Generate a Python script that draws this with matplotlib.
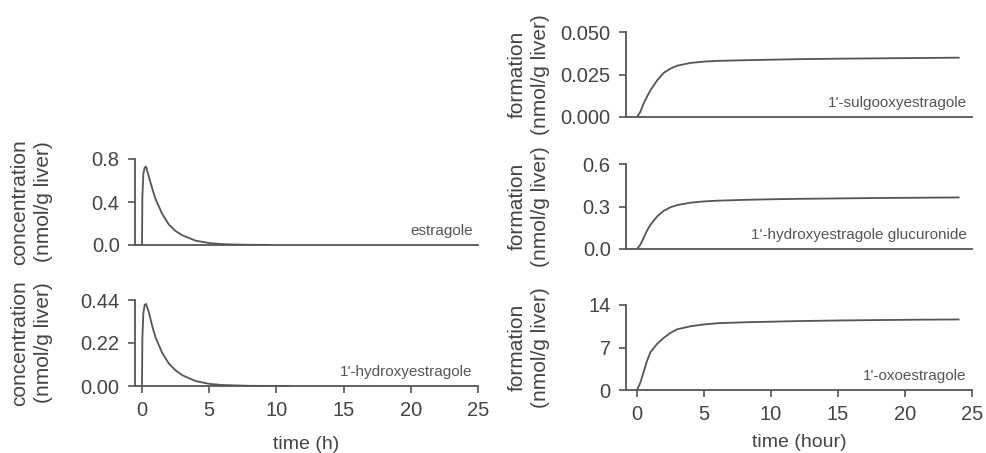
import matplotlib
matplotlib.use("Agg")
import matplotlib.pyplot as plt

plt.rcParams['font.family'] = ['Liberation Sans', 'DejaVu Sans']

# liver concentrations (left column)
t_estragole = [0, 0.03, 0.1, 0.2, 0.3, 0.5, 0.75, 1, 1.5, 2, 2.5, 3, 4, 5, 6, 7, 8, 9.5]
c_estragole = [0, 0.45, 0.66, 0.72, 0.73, 0.64, 0.53, 0.43, 0.29, 0.19, 0.13, 0.09,
               0.04, 0.018, 0.008, 0.004, 0.002, 0.001]

t_hydroxy = [0, 0.03, 0.1, 0.2, 0.3, 0.5, 0.75, 1, 1.5, 2, 2.5, 3, 4, 5, 6, 8, 11]
c_hydroxy = [0, 0.25, 0.37, 0.415, 0.42, 0.38, 0.31, 0.25, 0.17, 0.115, 0.08, 0.055,
             0.025, 0.011, 0.005, 0.001, 0.0]

# cumulative formation (right column)
t_form = [0, 0.25, 0.5, 0.75, 1, 1.5, 2, 2.5, 3, 4, 5, 6, 8, 10, 12, 15, 18, 21, 24]
f_sulfo = [0, 0.003, 0.008, 0.012, 0.0157, 0.0215, 0.026, 0.0285, 0.0302, 0.0318,
           0.0326, 0.0330, 0.0334, 0.0337, 0.0340, 0.0343, 0.0345, 0.0347, 0.0349]
f_gluc = [0, 0.03, 0.08, 0.13, 0.17, 0.23, 0.27, 0.295, 0.31, 0.327, 0.336, 0.341,
          0.347, 0.351, 0.354, 0.357, 0.360, 0.362, 0.364]
f_oxo = [0, 1.2, 3.0, 4.8, 6.2, 7.6, 8.6, 9.4, 10.0, 10.5, 10.8, 11.0, 11.15, 11.25,
         11.35, 11.45, 11.52, 11.58, 11.62]

left_ticks = [[0.0, 0.4, 0.8], [0.00, 0.22, 0.44]]
left_ticklabels = [['0.0', '0.4', '0.8'], ['0.00', '0.22', '0.44']]
right_ticks = [[0.0, 0.025, 0.05], [0.0, 0.3, 0.6], [0, 7, 14]]
right_ticklabels = [['0.000', '0.025', '0.050'], ['0.0', '0.3', '0.6'], ['0', '7', '14']]
x_ticks = [0, 5, 10, 15, 20, 25]

grey = '#555555'
txt = '#444444'
W, H = 986, 453
fig = plt.figure(figsize=(W / 100, H / 100), dpi=100)


def make_ax(x0, x1, ytop, ybot):
    return fig.add_axes([x0 / W, 1 - ybot / H, (x1 - x0) / W, (ybot - ytop) / H])


def style(ax, xmin, ylim, ticks, labels, name, ylabel, lx, xlabel=None, lpad=4):
    ax.set_xlim(xmin, 25)
    ax.set_ylim(*ylim)
    for s in ['top', 'right']:
        ax.spines[s].set_visible(False)
    for s in ['left', 'bottom']:
        ax.spines[s].set_color(grey)
        ax.spines[s].set_linewidth(1.3)
    ax.set_yticks(ticks)
    ax.set_yticklabels(labels)
    ax.tick_params(colors=grey, labelcolor=txt, labelsize=14.5, length=5,
                   width=1.2, pad=6)
    if xlabel:
        ax.set_xticks(x_ticks)
        ax.set_xlabel(xlabel, fontsize=14, color=txt, labelpad=lpad)
    else:
        ax.set_xticks([])
    ax.set_ylabel(ylabel, fontsize=15, color=txt, linespacing=1.3)
    ax.yaxis.set_label_coords(lx, 0.5)
    ax.text(0.985, 0.16, name, transform=ax.transAxes, ha='right', va='center',
            fontsize=11, color=grey)


ax1 = make_ax(135, 478, 159, 245)
ax1.plot(t_estragole, c_estragole, color=grey, lw=1.3)
style(ax1, -0.52, (0, 0.8), left_ticks[0], left_ticklabels[0], 'estragole',
      'concentration\n(nmol/g liver)', -0.24)

ax2 = make_ax(135, 478, 300, 386)
ax2.plot(t_hydroxy, c_hydroxy, color=grey, lw=1.3)
style(ax2, -0.52, (0, 0.44), left_ticks[1], left_ticklabels[1], "1'-hydroxyestragole",
      'concentration\n(nmol/g liver)', -0.24, 'time (h)', 11)

ax3 = make_ax(626, 972, 32, 117)
ax3.plot(t_form, f_sulfo, color=grey, lw=1.3)
style(ax3, -0.82, (0, 0.05), right_ticks[0], right_ticklabels[0], "1'-sulgooxyestragole",
      'formation\n(nmol/g liver)', -0.22)

ax4 = make_ax(626, 972, 164, 249)
ax4.plot(t_form, f_gluc, color=grey, lw=1.3)
style(ax4, -0.82, (0, 0.6), right_ticks[1], right_ticklabels[1],
      "1'-hydroxyestragole glucuronide", 'formation\n(nmol/g liver)', -0.22)

ax5 = make_ax(626, 972, 305, 390)
ax5.plot(t_form, f_oxo, color=grey, lw=1.3)
style(ax5, -0.82, (0, 14), right_ticks[2], right_ticklabels[2], "1'-oxoestragole",
      'formation\n(nmol/g liver)', -0.22, 'time (hour)', 7)

fig.savefig('out.png', dpi=100)
